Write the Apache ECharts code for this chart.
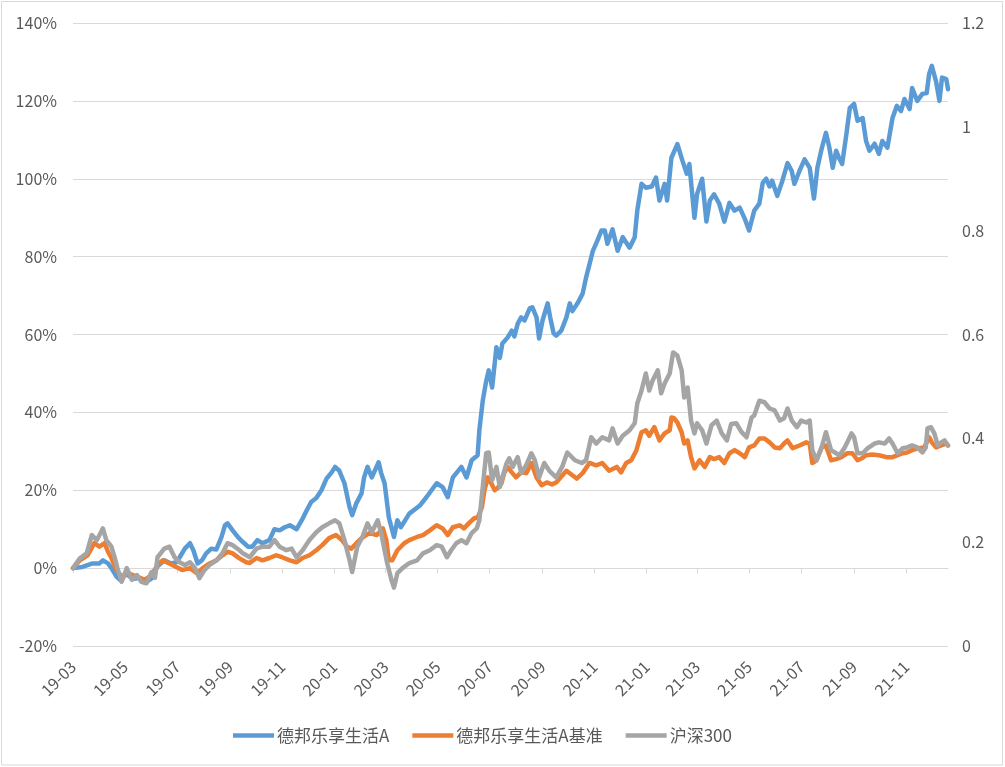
<!DOCTYPE html>
<html><head><meta charset="utf-8">
<script src="https://cdn.jsdelivr.net/npm/echarts@6.0.0/dist/echarts.min.js"></script>
<style>html,body{margin:0;padding:0;background:#fff}#c{width:1005px;height:767px}</style>
</head><body><div id="c"></div>
<script>
// ---- data (values in %) ----
const startDate = '2019-03-01';
const endDate = '2021-12-20';
const xTickLabels = ['19-03','19-05','19-07','19-09','19-11','20-01','20-03','20-05','20-07','20-09','20-11','21-01','21-03','21-05','21-07','21-09','21-11'];
const seriesNames = ['德邦乐享生活A','德邦乐享生活A基准','沪深300'];
const seriesColors = ['#5B9BD5','#ED7D31','#A5A5A5'];
const rightAxisTicks = [0, 1.2, 0.2];

const fundA = [['2019-03-01',0],['2019-03-12',0.3],['2019-03-24',1.2],['2019-04-01',1.2],['2019-04-05',2.0],['2019-04-11',1.2],['2019-04-15',0],['2019-04-21',-2.2],['2019-04-25',-3],['2019-05-03',-1.5],['2019-05-10',-2.8],['2019-05-18',-2.5],['2019-05-26',-3.5],['2019-06-02',-2.5],['2019-06-08',0.5],['2019-06-16',2],['2019-06-24',1.2],['2019-06-30',1.5],['2019-07-04',2.8],['2019-07-10',5],['2019-07-16',6.4],['2019-07-20',4.6],['2019-07-25',1.2],['2019-07-30',2],['2019-08-04',3.8],['2019-08-10',5],['2019-08-16',4.8],['2019-08-22',8],['2019-08-26',11],['2019-08-29',11.5],['2019-09-04',9.7],['2019-09-10',8],['2019-09-16',6.7],['2019-09-22',5.5],['2019-09-27',5.5],['2019-10-03',7.2],['2019-10-09',6.4],['2019-10-17',7.2],['2019-10-23',10],['2019-10-29',9.7],['2019-11-04',10.5],['2019-11-10',11],['2019-11-18',10],['2019-11-24',12.3],['2019-11-30',14.9],['2019-12-05',17],['2019-12-11',18],['2019-12-17',20],['2019-12-23',23],['2019-12-29',24.6],['2020-01-02',26],['2020-01-07',25],['2020-01-13',21.8],['2020-01-19',15.6],['2020-01-22',13.6],['2020-01-27',16.7],['2020-02-02',19.2],['2020-02-05',23.3],['2020-02-09',26],['2020-02-14',23.3],['2020-02-22',27.2],['2020-02-25',24.4],['2020-02-29',21.8],['2020-03-05',13],['2020-03-11',8],['2020-03-15',12.3],['2020-03-19',10.5],['2020-03-29',14],['2020-04-10',16],['2020-04-18',18.2],['2020-04-30',21.8],['2020-05-07',20.8],['2020-05-13',18.2],['2020-05-19',23.3],['2020-05-29',26],['2020-06-04',23.3],['2020-06-10',27.7],['2020-06-17',29],['2020-06-19',35.4],['2020-06-23',43],['2020-06-27',48],['2020-06-30',50.8],['2020-07-04',46.4],['2020-07-09',56.7],['2020-07-13',54],['2020-07-16',57.7],['2020-07-22',59.2],['2020-07-27',61],['2020-07-30',59.5],['2020-08-03',62.8],['2020-08-07',64.4],['2020-08-11',63.6],['2020-08-17',66.7],['2020-08-20',67],['2020-08-25',64.4],['2020-08-28',59],['2020-09-01',63.6],['2020-09-07',68],['2020-09-10',64.4],['2020-09-14',60.3],['2020-09-17',59.7],['2020-09-23',61],['2020-09-29',64.4],['2020-10-03',68],['2020-10-06',66],['2020-10-12',68],['2020-10-18',70.5],['2020-10-22',74.6],['2020-10-26',78],['2020-10-30',81.5],['2020-11-04',84],['2020-11-09',86.7],['2020-11-13',86.7],['2020-11-16',83.3],['2020-11-22',87],['2020-11-28',81.5],['2020-12-04',85],['2020-12-12',82.3],['2020-12-18',85],['2020-12-21',91.8],['2020-12-26',98.7],['2020-12-31',97.7],['2021-01-07',98],['2021-01-12',100.3],['2021-01-16',94.4],['2021-01-22',98.7],['2021-01-25',94.4],['2021-01-30',105.4],['2021-02-06',108.9],['2021-02-12',104.6],['2021-02-17',101.3],['2021-02-20',103.8],['2021-02-26',90],['2021-03-01',96],['2021-03-07',100],['2021-03-12',89],['2021-03-16',94.4],['2021-03-21',96],['2021-03-27',93.6],['2021-04-02',89],['2021-04-08',93.8],['2021-04-14',91.8],['2021-04-20',92.6],['2021-04-26',89.7],['2021-05-01',86.7],['2021-05-07',91.8],['2021-05-13',93.6],['2021-05-17',99],['2021-05-21',100],['2021-05-25',98],['2021-05-28',99.5],['2021-06-03',95.6],['2021-06-09',99.5],['2021-06-15',104],['2021-06-20',102],['2021-06-23',98.7],['2021-06-29',102],['2021-07-05',105],['2021-07-11',102.8],['2021-07-16',94.9],['2021-07-20',102.8],['2021-07-25',107.7],['2021-07-30',111.8],['2021-08-03',108],['2021-08-07',102.8],['2021-08-11',107.2],['2021-08-15',105],['2021-08-18',103.8],['2021-08-23',111.5],['2021-08-27',118.2],['2021-09-01',119.2],['2021-09-05',114.9],['2021-09-11',115.6],['2021-09-15',109.7],['2021-09-19',107.2],['2021-09-25',109],['2021-09-30',106.4],['2021-10-04',109.7],['2021-10-10',108],['2021-10-16',115.6],['2021-10-21',118.7],['2021-10-26',117.4],['2021-10-30',120.5],['2021-11-05',117.9],['2021-11-08',123.3],['2021-11-14',120],['2021-11-20',121.8],['2021-11-25',122],['2021-11-28',127],['2021-12-01',129],['2021-12-06',125],['2021-12-10',120],['2021-12-13',126],['2021-12-18',125.6],['2021-12-20',123]];

const benchmark = [['2019-03-01',0],['2019-03-09',2],['2019-03-18',3.3],['2019-03-26',6.4],['2019-04-01',5.5],['2019-04-07',6.4],['2019-04-11',4.2],['2019-04-15',2.6],['2019-04-21',-0.5],['2019-04-27',-2.2],['2019-05-04',-1.3],['2019-05-15',-2.2],['2019-05-24',-3],['2019-06-01',-1.8],['2019-06-08',0.8],['2019-06-14',2],['2019-06-22',1.2],['2019-06-30',0.3],['2019-07-07',-0.5],['2019-07-16',0],['2019-07-24',-1.3],['2019-07-31',0],['2019-08-08',1.2],['2019-08-16',2],['2019-08-23',3.3],['2019-08-29',4.2],['2019-09-04',3.8],['2019-09-12',2.5],['2019-09-20',1.5],['2019-09-24',1.3],['2019-10-02',2.6],['2019-10-09',2],['2019-10-17',2.6],['2019-10-25',3.3],['2019-11-01',2.8],['2019-11-10',2],['2019-11-18',1.5],['2019-11-25',2.6],['2019-12-03',3.3],['2019-12-11',4.6],['2019-12-18',5.9],['2019-12-26',7.7],['2020-01-03',8.5],['2020-01-10',7.2],['2020-01-16',5.5],['2020-01-21',5],['2020-01-27',6.4],['2020-02-02',7.7],['2020-02-11',9],['2020-02-20',8.5],['2020-02-27',10.2],['2020-03-02',7.2],['2020-03-05',2],['2020-03-09',2],['2020-03-15',4.6],['2020-03-23',6.4],['2020-03-29',7.2],['2020-04-07',8],['2020-04-14',8.5],['2020-04-22',9.7],['2020-04-30',11],['2020-05-07',10.2],['2020-05-13',8.5],['2020-05-19',10.5],['2020-05-27',11],['2020-06-01',10.2],['2020-06-08',11.8],['2020-06-13',12.8],['2020-06-17',13],['2020-06-22',15.6],['2020-06-25',20],['2020-06-29',23.3],['2020-07-03',21.8],['2020-07-07',20],['2020-07-10',20.5],['2020-07-15',21.8],['2020-07-18',24.4],['2020-07-22',26],['2020-07-27',24.6],['2020-08-01',23.3],['2020-08-07',24.6],['2020-08-13',24.4],['2020-08-19',27],['2020-08-25',23.3],['2020-08-31',21.3],['2020-09-06',22],['2020-09-12',21.5],['2020-09-17',22],['2020-09-29',25],['2020-10-11',23],['2020-10-18',24.4],['2020-10-26',27],['2020-11-03',26.4],['2020-11-10',27],['2020-11-18',25],['2020-11-27',26],['2020-12-02',24.6],['2020-12-08',27],['2020-12-14',27.7],['2020-12-20',30.3],['2020-12-26',34.9],['2020-12-31',35.4],['2021-01-04',34],['2021-01-10',36.2],['2021-01-16',32.8],['2021-01-22',34.6],['2021-01-28',35.4],['2021-01-30',38.7],['2021-02-02',38.5],['2021-02-06',37.4],['2021-02-11',34.9],['2021-02-14',32],['2021-02-18',32.8],['2021-02-22',28.5],['2021-02-26',25.6],['2021-03-04',27.7],['2021-03-10',26],['2021-03-16',28.5],['2021-03-21',28],['2021-03-27',28.5],['2021-04-02',27],['2021-04-08',29.5],['2021-04-14',30.3],['2021-04-20',29.5],['2021-04-26',28.5],['2021-05-01',31],['2021-05-07',31.5],['2021-05-13',33.3],['2021-05-19',33.3],['2021-05-25',32.3],['2021-05-31',31],['2021-06-06',30.8],['2021-06-11',32],['2021-06-15',32.8],['2021-06-21',30.8],['2021-06-29',31.5],['2021-07-07',32.3],['2021-07-11',32],['2021-07-14',27],['2021-07-19',27.7],['2021-07-25',31],['2021-07-30',31.5],['2021-08-05',27.7],['2021-08-11',28],['2021-08-17',28.5],['2021-08-24',29.5],['2021-08-30',29.5],['2021-09-05',27.7],['2021-09-10',28.2],['2021-09-15',29],['2021-09-22',29.2],['2021-09-30',29],['2021-10-09',28.5],['2021-10-16',28.5],['2021-10-22',29],['2021-10-28',29.5],['2021-11-02',29.7],['2021-11-08',30.3],['2021-11-16',30.8],['2021-11-22',31],['2021-11-28',33.6],['2021-12-01',32.3],['2021-12-06',31],['2021-12-12',31.5],['2021-12-18',32],['2021-12-20',31.5]];

const hs300 = [['2019-03-01',0],['2019-03-09',2.5],['2019-03-17',3.8],['2019-03-23',8.5],['2019-03-29',7.2],['2019-04-05',10.2],['2019-04-09',7.2],['2019-04-15',5.5],['2019-04-19',2.6],['2019-04-22',0],['2019-04-27',-3.5],['2019-05-03',0],['2019-05-09',-3],['2019-05-15',-1.8],['2019-05-20',-3.5],['2019-05-26',-3.9],['2019-06-01',-1],['2019-06-05',-2.5],['2019-06-08',2.8],['2019-06-16',5],['2019-06-22',5.5],['2019-06-28',2.8],['2019-07-04',1.5],['2019-07-10',0.8],['2019-07-16',1.5],['2019-07-22',0],['2019-07-27',-2.6],['2019-08-02',-0.5],['2019-08-08',0.8],['2019-08-16',2],['2019-08-23',3.8],['2019-08-29',6.4],['2019-09-04',5.9],['2019-09-12',4.6],['2019-09-16',3.8],['2019-09-24',2.8],['2019-10-02',5],['2019-10-09',5.5],['2019-10-17',5.5],['2019-10-23',7.2],['2019-10-29',5.5],['2019-11-06',4.6],['2019-11-12',5],['2019-11-18',2.8],['2019-11-25',4.6],['2019-12-03',7.2],['2019-12-11',9.2],['2019-12-18',10.5],['2019-12-26',11.5],['2020-01-02',12.3],['2020-01-07',11.5],['2020-01-13',7.2],['2020-01-19',2],['2020-01-22',-1],['2020-01-28',5.5],['2020-02-03',8],['2020-02-09',11.5],['2020-02-14',9.2],['2020-02-21',12.3],['2020-02-25',9],['2020-02-29',4.6],['2020-03-03',1.3],['2020-03-08',-3],['2020-03-11',-5],['2020-03-15',-1.3],['2020-03-21',0],['2020-03-29',1.3],['2020-04-07',2],['2020-04-14',3.8],['2020-04-22',4.6],['2020-04-30',5.9],['2020-05-06',5.5],['2020-05-12',2.8],['2020-05-17',4.6],['2020-05-23',6.4],['2020-05-29',7.2],['2020-06-04',6.4],['2020-06-10',9],['2020-06-16',10.2],['2020-06-19',12.3],['2020-06-23',20.8],['2020-06-27',29.5],['2020-06-30',29.7],['2020-07-04',22.6],['2020-07-09',26],['2020-07-13',20.8],['2020-07-16',23.3],['2020-07-21',27],['2020-07-24',28.2],['2020-07-28',26],['2020-08-03',28.5],['2020-08-07',24.4],['2020-08-13',26.5],['2020-08-19',29.5],['2020-08-23',27.7],['2020-08-28',23.3],['2020-09-03',27],['2020-09-09',25],['2020-09-17',23.3],['2020-09-24',26],['2020-09-30',29.7],['2020-10-09',27.7],['2020-10-17',27],['2020-10-22',27.7],['2020-10-28',33.6],['2020-11-03',32],['2020-11-10',33.6],['2020-11-18',32.8],['2020-11-22',35.9],['2020-11-28',32],['2020-12-04',34],['2020-12-12',35.4],['2020-12-18',37.2],['2020-12-21',42.3],['2020-12-26',45.6],['2020-12-31',50],['2021-01-04',45.6],['2021-01-08',48.2],['2021-01-14',50.8],['2021-01-18',44.9],['2021-01-22',47.4],['2021-01-28',50],['2021-02-01',55.4],['2021-02-06',54.6],['2021-02-11',50.8],['2021-02-14',43.8],['2021-02-18',46.4],['2021-02-22',37.9],['2021-02-26',34.6],['2021-03-01',37.2],['2021-03-07',35.4],['2021-03-12',32],['2021-03-18',36.7],['2021-03-24',37.9],['2021-03-30',34.6],['2021-04-05',32.8],['2021-04-10',37],['2021-04-16',37.2],['2021-04-22',35],['2021-04-28',33.6],['2021-05-04',38.7],['2021-05-07',39.2],['2021-05-13',43],['2021-05-19',42.6],['2021-05-25',41],['2021-05-31',40.5],['2021-06-06',37.9],['2021-06-11',38.5],['2021-06-15',41],['2021-06-20',37.9],['2021-06-26',36.2],['2021-07-01',37.9],['2021-07-07',37.4],['2021-07-11',37.9],['2021-07-14',30.3],['2021-07-19',27.7],['2021-07-25',31],['2021-07-30',34.9],['2021-08-05',30.3],['2021-08-11',29.5],['2021-08-15',29],['2021-08-21',31],['2021-08-29',34.6],['2021-09-01',33.6],['2021-09-05',29.5],['2021-09-11',29.5],['2021-09-17',30.8],['2021-09-25',32],['2021-09-30',32.3],['2021-10-07',32],['2021-10-12',33.3],['2021-10-16',32],['2021-10-22',29.5],['2021-10-28',30.8],['2021-11-02',31],['2021-11-08',31.5],['2021-11-14',31],['2021-11-20',29.7],['2021-11-24',31],['2021-11-26',35.9],['2021-11-30',36.2],['2021-12-04',34.6],['2021-12-08',31.5],['2021-12-12',32.3],['2021-12-16',32.8],['2021-12-20',31.5]];

// ---- calendar-day category axis ----
const days = [];
for (let t = Date.parse(startDate + 'T00:00:00Z'); t <= Date.parse(endDate + 'T00:00:00Z'); t += 86400000) {
  days.push(new Date(t).toISOString().slice(0, 10));
}
const isTick = (idx, v) => v.slice(8) === '01' && xTickLabels.indexOf(v.slice(2, 7)) >= 0;

const FONT = '"Noto Sans CJK SC", "Noto Sans", sans-serif';
const chart = echarts.init(document.getElementById('c'), null, {renderer: 'canvas'});
const allData = [fundA, benchmark, hs300];
chart.setOption({
  animation: false,
  backgroundColor: '#ffffff',
  textStyle: {fontFamily: FONT},
  graphic: [{type: 'rect', shape: {x: 1.5, y: 1.5, width: 1001, height: 763.5},
    style: {fill: 'none', stroke: '#D9D9D9', lineWidth: 1}, silent: true}],
  grid: {left: 73, right: 57, top: 23, bottom: 121, containLabel: false},
  legend: {
    top: 722, left: 228, icon: 'rect', itemWidth: 41, itemHeight: 4.5, itemGap: 23,
    textStyle: {fontSize: 17, color: '#595959', fontFamily: FONT, padding: [0, 0, 0, -2]},
    data: seriesNames
  },
  xAxis: {
    type: 'category', data: days, boundaryGap: false,
    axisLine: {show: true, lineStyle: {color: '#D9D9D9', width: 1}},
    axisTick: {show: true, interval: isTick, length: 5, lineStyle: {color: '#D9D9D9'}},
    axisLabel: {interval: isTick, rotate: 45, margin: 18, fontSize: 16, color: '#595959', fontFamily: FONT,
      formatter: v => v.slice(2, 7)},
    splitLine: {show: false}
  },
  yAxis: [{
    type: 'value', min: -20, max: 140, interval: 20, position: 'left',
    axisLine: {show: false}, axisTick: {show: false},
    axisLabel: {margin: 16, fontSize: 16, color: '#595959', fontFamily: FONT, formatter: '{value}%'},
    splitLine: {show: true, lineStyle: {color: '#D9D9D9', width: 1}}
  }, {
    type: 'value', min: rightAxisTicks[0], max: rightAxisTicks[1], interval: rightAxisTicks[2], position: 'right',
    axisLine: {show: false}, axisTick: {show: false},
    axisLabel: {margin: 14, fontSize: 16, color: '#595959', fontFamily: FONT,
      formatter: v => String(Math.round(v * 10) / 10)},
    splitLine: {show: false}
  }],
  series: seriesNames.map((name, i) => ({
    name: name, type: 'line', yAxisIndex: 0, data: allData[i],
    symbol: 'none', showSymbol: false, smooth: false,
    lineStyle: {color: seriesColors[i], width: 4.5, join: 'round', cap: 'round'},
    itemStyle: {color: seriesColors[i]},
    emphasis: {disabled: true}
  }))
});
</script>
</body></html>
